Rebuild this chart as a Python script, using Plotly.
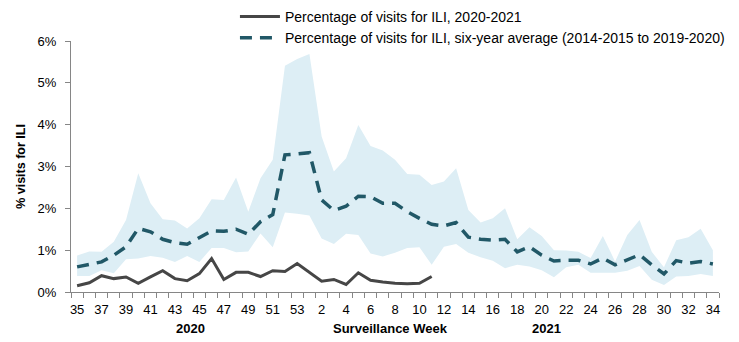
import plotly.graph_objects as go

weeks = [35, 36, 37, 38, 39, 40, 41, 42, 43, 44, 45, 46, 47, 48, 49, 50, 51, 52, 53,
         1, 2, 3, 4, 5, 6, 7, 8, 9, 10, 11, 12, 13, 14, 15, 16, 17, 18, 19, 20,
         21, 22, 23, 24, 25, 26, 27, 28, 29, 30, 31, 32, 33, 34]

current_2020_21 = [0.15, 0.22, 0.39, 0.32, 0.36, 0.21, 0.36, 0.51, 0.32, 0.27, 0.44, 0.80,
                   0.30, 0.47, 0.47, 0.37, 0.51, 0.49, 0.68, 0.46, 0.26, 0.30, 0.18, 0.46,
                   0.28, 0.24, 0.21, 0.20, 0.21, 0.37]

six_year_avg = [0.60, 0.66, 0.72, 0.88, 1.08, 1.52, 1.44, 1.26, 1.18, 1.14, 1.31, 1.46,
                1.45, 1.50, 1.38, 1.68, 1.85, 3.28, 3.30, 3.33, 2.20, 1.95, 2.05, 2.29,
                2.28, 2.12, 2.12, 1.92, 1.76, 1.62, 1.58, 1.66, 1.31, 1.26, 1.24, 1.26,
                0.96, 1.08, 0.88, 0.74, 0.76, 0.76, 0.67, 0.81, 0.65, 0.77, 0.89, 0.65,
                0.43, 0.75, 0.69, 0.73, 0.67]

range_max = [0.87, 0.97, 0.96, 1.20, 1.72, 2.84, 2.12, 1.74, 1.71, 1.52, 1.76, 2.22,
             2.20, 2.74, 1.92, 2.72, 3.16, 5.41, 5.57, 5.69, 3.72, 2.88, 3.20, 3.99,
             3.49, 3.38, 3.16, 2.82, 2.80, 2.56, 2.64, 2.96, 1.96, 1.66, 1.76, 2.00,
             1.26, 1.55, 1.34, 1.00, 0.99, 0.96, 0.81, 1.34, 0.73, 1.36, 1.72, 0.96,
             0.59, 1.24, 1.31, 1.51, 1.00]

range_min = [0.38, 0.38, 0.52, 0.45, 0.78, 0.80, 0.86, 0.82, 0.72, 0.86, 0.72, 1.05,
             1.05, 0.95, 0.97, 1.40, 1.07, 1.90, 1.87, 1.83, 1.28, 1.15, 1.39, 1.36,
             0.92, 0.85, 0.94, 1.05, 1.07, 0.65, 1.08, 1.15, 0.94, 0.83, 0.75, 0.57,
             0.65, 0.61, 0.52, 0.35, 0.59, 0.65, 0.46, 0.46, 0.46, 0.51, 0.62, 0.29,
             0.17, 0.37, 0.38, 0.43, 0.38]

y_ticks = [0, 1, 2, 3, 4, 5, 6]
y_tick_labels = ["0%", "1%", "2%", "3%", "4%", "5%", "6%"]

x = list(range(len(weeks)))
tick_idx = x[::2]
tick_text = [str(weeks[i]) for i in tick_idx]

FONT = "Liberation Sans, Arial, sans-serif"
GRAY = "#868686"

fig = go.Figure()
fig.add_trace(go.Scatter(x=x, y=range_min, mode="lines", line=dict(width=0),
                         showlegend=False, hoverinfo="skip"))
fig.add_trace(go.Scatter(x=x, y=range_max, mode="lines", line=dict(width=0),
                         fill="tonexty", fillcolor="#DDEEF5",
                         showlegend=False, hoverinfo="skip"))
fig.add_trace(go.Scatter(x=x, y=six_year_avg, mode="lines",
                         line=dict(color="#215867", width=3.5, dash="12px,8px"),
                         name="Percentage of visits for ILI, six-year average (2014-2015 to 2019-2020)"))
fig.add_trace(go.Scatter(x=x[:len(current_2020_21)], y=current_2020_21, mode="lines",
                         line=dict(color="#464646", width=3),
                         name="Percentage of visits for ILI, 2020-2021"))

fig.update_layout(
    width=739, height=342,
    margin=dict(l=71, r=20, t=41, b=50, autoexpand=False),
    paper_bgcolor="white", plot_bgcolor="white",
    font=dict(family=FONT, size=13, color="#000000"),
    showlegend=True,
    legend=dict(x=0.253, y=1.16, xanchor="left", yanchor="top",
                traceorder="reversed", bgcolor="rgba(0,0,0,0)",
                font=dict(size=14), itemwidth=40, tracegroupgap=0),
    xaxis=dict(range=[-0.5, len(weeks) - 0.5], tickmode="array",
               tickvals=tick_idx, ticktext=tick_text, ticks="",
               showgrid=False, zeroline=False, showline=True,
               linecolor=GRAY, linewidth=1, ticklabelstandoff=5,
               minor=dict(tick0=-0.5, dtick=1, ticks="outside", ticklen=5,
                          tickcolor=GRAY, showgrid=False),
               tickfont=dict(size=13)),
    yaxis=dict(range=[0, 6], tickmode="array", tickvals=y_ticks, ticktext=y_tick_labels,
               ticks="outside", ticklen=5, tickcolor=GRAY, showgrid=False,
               zeroline=False, showline=True, linecolor=GRAY, linewidth=1,
               tickfont=dict(size=13), ticklabelstandoff=6,
               title=dict(text="<b>% visits for ILI</b>", font=dict(size=12.5), standoff=9)),
)

fig.add_annotation(text="<b>Surveillance Week</b>", xref="paper", yref="paper",
                   x=(390 - 71) / 648, y=-(328 - 292) / 251, showarrow=False,
                   font=dict(size=13), xanchor="center", yanchor="middle")
fig.add_annotation(text="<b>2020</b>", xref="paper", yref="paper",
                   x=(190 - 71) / 648, y=-(328 - 292) / 251, showarrow=False,
                   font=dict(size=13), xanchor="center", yanchor="middle")
fig.add_annotation(text="<b>2021</b>", xref="paper", yref="paper",
                   x=(546 - 71) / 648, y=-(328 - 292) / 251, showarrow=False,
                   font=dict(size=13), xanchor="center", yanchor="middle")

fig.write_html("out.html")
